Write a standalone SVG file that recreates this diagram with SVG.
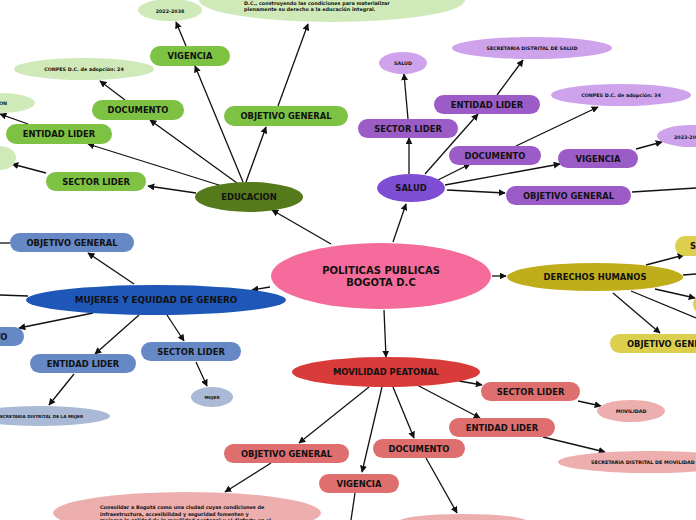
<svg xmlns="http://www.w3.org/2000/svg" width="696" height="520" viewBox="0 0 696 520">
<style>
text{font-family:"DejaVu Sans","Liberation Sans",sans-serif;font-weight:bold;fill:#111;text-anchor:middle;dominant-baseline:central}
.p{font-size:8.4px}
.s{font-size:4.8px}
.t{font-size:4.9px;text-anchor:start}
.c{stroke:#111;stroke-width:1.3;fill:none}
.gp{fill:#7dc242}.gl{fill:#cfeab8}
.vp{fill:#9b5cc8}.vl{fill:#cfa3ec}
.yp{fill:#dccf4e}
.bp{fill:#6688c4}.bl{fill:#a9b9d6}
.rp{fill:#df6e6e}.rl{fill:#edaeae}
</style>
<defs>
<marker id="a" viewBox="0 0 10 10" refX="9" refY="5" markerWidth="7" markerHeight="7" orient="auto" markerUnits="userSpaceOnUse"><path d="M0,0L10,5L0,10z" fill="#111"/></marker>
</defs>
<rect width="696" height="520" fill="#fff"/>
<g id="connectors">
<path class="c" marker-end="url(#a)" d="M331,244L272,210"/>
<path class="c" marker-end="url(#a)" d="M393,242L406,204"/>
<path class="c" marker-end="url(#a)" d="M492,276L506,276"/>
<path class="c" marker-end="url(#a)" d="M270,287L252,290"/>
<path class="c" marker-end="url(#a)" d="M384,310L386,357"/>
<path class="c" marker-end="url(#a)" d="M243,182L195,66"/>
<path class="c" marker-end="url(#a)" d="M237,183L150,120"/>
<path class="c" marker-end="url(#a)" d="M222,186L88,144"/>
<path class="c" marker-end="url(#a)" d="M196,193L148,186"/>
<path class="c" marker-end="url(#a)" d="M246,182L266,127"/>
<path class="c" marker-end="url(#a)" d="M186,46L176,22"/>
<path class="c" marker-end="url(#a)" d="M278,106L308,24"/>
<path class="c" marker-end="url(#a)" d="M125,100L100,81"/>
<path class="c" marker-end="url(#a)" d="M28,124L0,114"/>
<path class="c" marker-end="url(#a)" d="M46,173L12,164"/>
<path class="c" marker-end="url(#a)" d="M409,174L409,138"/>
<path class="c" marker-end="url(#a)" d="M408,119L404,74"/>
<path class="c" marker-end="url(#a)" d="M425,174L478,114"/>
<path class="c" marker-end="url(#a)" d="M497,95L523,60"/>
<path class="c" marker-end="url(#a)" d="M438,180L470,164"/>
<path class="c" marker-end="url(#a)" d="M516,146L598,107"/>
<path class="c" marker-end="url(#a)" d="M445,185L560,164"/>
<path class="c" marker-end="url(#a)" d="M636,149L662,142"/>
<path class="c" marker-end="url(#a)" d="M447,190L505,193"/>
<path class="c" d="M632,192L696,188"/>
<path class="c" marker-end="url(#a)" d="M646,265L684,255"/>
<path class="c" d="M683,275L696,274"/>
<path class="c" marker-end="url(#a)" d="M655,289L695,298"/>
<path class="c" d="M631,291L696,318"/>
<path class="c" marker-end="url(#a)" d="M613,293L660,333"/>
<path class="c" marker-end="url(#a)" d="M134,284L88,253"/>
<path class="c" d="M0,243L10,243"/>
<path class="c" d="M28,296L0,295"/>
<path class="c" marker-end="url(#a)" d="M93,313L19,328"/>
<path class="c" marker-end="url(#a)" d="M139,315L95,354"/>
<path class="c" marker-end="url(#a)" d="M167,315L184,341" stroke="#1f6fd0"/>
<path class="c" marker-end="url(#a)" d="M74,374L49,405"/>
<path class="c" marker-end="url(#a)" d="M196,362L207,386"/>
<path class="c" marker-end="url(#a)" d="M459,381L482,385"/>
<path class="c" marker-end="url(#a)" d="M578,401L601,406"/>
<path class="c" marker-end="url(#a)" d="M417,385L480,418"/>
<path class="c" marker-end="url(#a)" d="M543,437L605,452"/>
<path class="c" marker-end="url(#a)" d="M393,387L414,438"/>
<path class="c" marker-end="url(#a)" d="M426,458L457,513"/>
<path class="c" marker-end="url(#a)" d="M369,387L299,443"/>
<path class="c" marker-end="url(#a)" d="M271,463L225,492"/>
<path class="c" marker-end="url(#a)" d="M382,387L362,472"/>
<path class="c" d="M355,493L351,520"/>
</g>
<g id="central"><ellipse cx="381" cy="276" rx="110" ry="33" fill="#f56c9c"/><text x="381" y="270" style="font-size:10px">POLITICAS PUBLICAS</text><text x="381" y="282" style="font-size:10px">BOGOTA D.C</text></g>
<g id="educacion"><ellipse cx="249" cy="197" rx="54" ry="15" fill="#557a1c"/><text x="249" y="197" class="p">EDUCACION</text></g>
<g id="edu-vigencia"><rect x="150" y="46" width="80" height="20" rx="10" class="gp"/><text x="190" y="56" class="p">VIGENCIA</text></g>
<g id="edu-documento"><rect x="92" y="100" width="92" height="20" rx="10" class="gp"/><text x="138" y="110" class="p">DOCUMENTO</text></g>
<g id="edu-entidad"><rect x="6" y="124" width="106" height="20" rx="10" class="gp"/><text x="59" y="134" class="p">ENTIDAD LIDER</text></g>
<g id="edu-sector"><rect x="46" y="172" width="100" height="19" rx="9.5" class="gp"/><text x="96" y="181.5" class="p">SECTOR LIDER</text></g>
<g id="edu-objetivo"><rect x="224" y="106" width="124" height="20" rx="10" class="gp"/><text x="286" y="116" class="p">OBJETIVO GENERAL</text></g>
<g id="edu-2022"><ellipse cx="170" cy="10" rx="32" ry="11" class="gl"/><text x="170" y="11" class="s">2022-2038</text></g>
<g id="edu-obj-text"><ellipse cx="332" cy="0" rx="133" ry="22" class="gl"/><text x="244" y="3" class="t">D.C., construyendo las condiciones para materializar</text><text x="244" y="9" class="t">plenamente su derecho a la educación integral.</text></g>
<g id="edu-conpes"><ellipse cx="84" cy="69" rx="70" ry="11" class="gl"/><text x="84" y="69" class="s">CONPES D.C. de adopción: 24</text></g>
<g id="edu-secretaria"><ellipse cx="0" cy="103" rx="35" ry="10" class="gl"/><text x="7" y="103" class="s" style="text-anchor:end">EDUCACION</text></g>
<g id="edu-sector-val"><ellipse cx="0" cy="158" rx="16" ry="12" class="gl"/></g>
<g id="salud"><ellipse cx="411" cy="188" rx="34" ry="14" fill="#7d4dd4"/><text x="411" y="188" class="p">SALUD</text></g>
<g id="sal-sector"><rect x="358" y="119" width="100" height="19" rx="9.5" class="vp"/><text x="408" y="128.5" class="p">SECTOR LIDER</text></g>
<g id="sal-entidad"><rect x="434" y="95" width="106" height="19" rx="9.5" class="vp"/><text x="487" y="104.5" class="p">ENTIDAD LIDER</text></g>
<g id="sal-documento"><rect x="449" y="146" width="92" height="19" rx="9.5" class="vp"/><text x="495" y="155.5" class="p">DOCUMENTO</text></g>
<g id="sal-vigencia"><rect x="558" y="149" width="80" height="19" rx="9.5" class="vp"/><text x="598" y="158.5" class="p">VIGENCIA</text></g>
<g id="sal-objetivo"><rect x="506" y="186" width="125" height="19" rx="9.5" class="vp"/><text x="568.5" y="195.5" class="p">OBJETIVO GENERAL</text></g>
<g id="sal-salud"><ellipse cx="403" cy="63" rx="24" ry="11" class="vl"/><text x="403" y="63" class="s">SALUD</text></g>
<g id="sal-secretaria"><ellipse cx="532" cy="48" rx="80" ry="11" class="vl"/><text x="532" y="48" class="s">SECRETARIA DISTRITAL DE SALUD</text></g>
<g id="sal-conpes"><ellipse cx="621" cy="95" rx="70" ry="11" class="vl"/><text x="621" y="95" class="s">CONPES D.C. de adopción: 34</text></g>
<g id="sal-2023"><ellipse cx="691" cy="136" rx="34" ry="11" class="vl"/><text x="674" y="137" class="s" style="text-anchor:start">2023-2034</text></g>
<g id="derechos"><ellipse cx="595" cy="277" rx="88" ry="14" fill="#bfad19"/><text x="595" y="277" class="p">DERECHOS HUMANOS</text></g>
<g id="dh-sector"><rect x="675" y="236" width="60" height="20" rx="10" class="yp"/><text x="690" y="246" class="p" style="text-anchor:start">SECTOR LIDER</text></g>
<g id="dh-pill2"><rect x="693" y="295" width="60" height="19" rx="9.5" class="yp"/></g>
<g id="dh-objetivo"><rect x="610" y="334" width="130" height="19" rx="9.5" class="yp"/><text x="627" y="343.5" class="p" style="text-anchor:start">OBJETIVO GENERAL</text></g>
<g id="mujeres"><ellipse cx="156" cy="300" rx="130" ry="15" fill="#1f57b8"/><text x="156" y="300" class="p" style="font-size:8.8px">MUJERES Y EQUIDAD DE GENERO</text></g>
<g id="muj-objetivo"><rect x="10" y="233" width="124" height="19" rx="9.5" class="bp"/><text x="72" y="242.5" class="p">OBJETIVO GENERAL</text></g>
<g id="muj-documento"><rect x="-70" y="327" width="94" height="19" rx="9.5" class="bp"/><text x="-23" y="336.5" class="p">DOCUMENTO</text></g>
<g id="muj-entidad"><rect x="30" y="354" width="106" height="19" rx="9.5" class="bp"/><text x="83" y="363.5" class="p">ENTIDAD LIDER</text></g>
<g id="muj-sector"><rect x="141" y="342" width="100" height="19" rx="9.5" class="bp"/><text x="191" y="351.5" class="p">SECTOR LIDER</text></g>
<g id="muj-mujer"><ellipse cx="212" cy="397" rx="21" ry="10" class="bl"/><text x="212" y="397" class="s" style="font-size:4.2px">MUJER</text></g>
<g id="muj-secretaria"><ellipse cx="40" cy="416" rx="70" ry="10" class="bl"/><text x="40" y="416" class="s" style="font-size:4.2px">SECRETARIA DISTRITAL DE LA MUJER</text></g>
<g id="movilidad"><ellipse cx="386" cy="372" rx="94" ry="15" fill="#d93a3a"/><text x="386" y="372" class="p">MOVILIDAD PEATONAL</text></g>
<g id="mov-sector"><rect x="481" y="382" width="99" height="19" rx="9.5" class="rp"/><text x="530.5" y="391.5" class="p">SECTOR LIDER</text></g>
<g id="mov-entidad"><rect x="449" y="418" width="106" height="19" rx="9.5" class="rp"/><text x="502" y="427.5" class="p">ENTIDAD LIDER</text></g>
<g id="mov-documento"><rect x="373" y="439" width="92" height="19" rx="9.5" class="rp"/><text x="419" y="448.5" class="p">DOCUMENTO</text></g>
<g id="mov-objetivo"><rect x="224" y="444" width="125" height="19" rx="9.5" class="rp"/><text x="286.5" y="453.5" class="p">OBJETIVO GENERAL</text></g>
<g id="mov-vigencia"><rect x="319" y="474" width="80" height="19" rx="9.5" class="rp"/><text x="359" y="483.5" class="p">VIGENCIA</text></g>
<g id="mov-movilidad"><ellipse cx="631" cy="411" rx="34" ry="11" class="rl"/><text x="631" y="411" class="s">MOVILIDAD</text></g>
<g id="mov-secretaria"><ellipse cx="650" cy="462" rx="92" ry="11" class="rl"/><text x="591" y="462" class="s" style="text-anchor:start">SECRETARIA DISTRITAL DE MOVILIDAD</text></g>
<g id="mov-obj-text"><ellipse cx="187" cy="513" rx="134" ry="21" class="rl"/><text x="100" y="507" class="t">Consolidar a Bogotá como una ciudad cuyas condiciones de</text><text x="100" y="513.5" class="t">infraestructura, accesibilidad y seguridad fomenten y</text><text x="100" y="520" class="t">mejoren la calidad de la movilidad peatonal y el disfrute en el</text></g>
<g id="mov-doc-val"><ellipse cx="463" cy="522" rx="65" ry="8" class="rl"/></g>
</svg>
